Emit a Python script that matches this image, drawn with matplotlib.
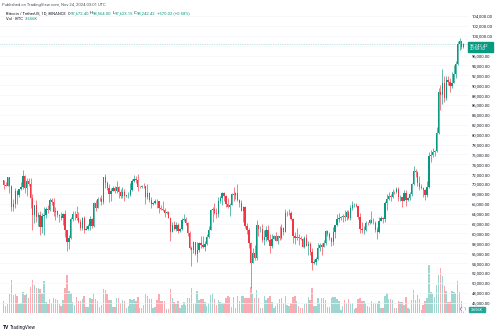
import numpy as np
import matplotlib
matplotlib.use('Agg')
import matplotlib.pyplot as plt
import matplotlib.dates as mdates

plt.rcParams['font.family'] = ['Roboto', 'DejaVu Sans']

# BTCUSDT daily candles, Binance, 2024-03-29 .. 2024-11-24 (prices in thousands of USDT)
first_day = np.datetime64('2024-03-29')

opens = [70.74, 69.89, 69.65,
	71.33, 69.70, 65.46, 65.98, 68.51, 67.84, 68.90, 69.36, 71.63, 69.14, 70.59, 70.06, 67.20, 63.77, 65.74, 63.42, 63.79, 61.28, 63.47, 63.82, 64.94, 64.80, 66.82, 66.41, 64.29, 64.50, 63.77, 63.46, 63.12, 63.87,
	60.67, 58.36, 59.06, 62.88, 63.89, 64.01, 63.17, 62.31, 61.19, 63.07, 60.80, 60.83, 61.48, 62.94, 61.58, 66.21, 65.24, 67.02, 66.92, 66.27, 71.45, 70.15, 69.17, 67.97, 68.55, 69.29, 68.51, 69.44, 68.40, 67.65, 68.35,
	67.54, 67.77, 67.82, 68.80, 70.57, 71.08, 70.76, 69.34, 69.31, 69.65, 69.51, 67.32, 68.24, 66.75, 66.01, 66.19, 66.64, 66.49, 65.15, 64.96, 64.83, 64.10, 64.25, 63.18, 60.28, 61.81, 60.86, 61.71, 60.43, 60.99,
	62.77, 62.90, 62.03, 60.17, 57.03, 56.64, 58.23, 55.86, 56.71, 58.05, 57.73, 57.34, 57.89, 59.20, 60.80, 64.72, 65.04, 64.09, 63.99, 66.66, 67.14, 68.17, 67.53, 65.94, 65.37, 65.78, 67.91, 67.81, 68.26, 66.82, 66.20,
	64.62, 65.36, 61.42, 60.68, 58.12, 53.99, 56.03, 55.03, 61.71, 60.88, 60.95, 58.72, 59.35, 60.61, 58.74, 57.56, 58.89, 59.48, 58.48, 59.49, 59.01, 61.18, 60.38, 64.09, 64.18, 64.22, 62.83, 59.42, 59.03, 59.36, 59.12,
	58.97, 57.30, 59.13, 57.49, 57.97, 56.16, 53.96, 54.16, 54.87, 57.04, 57.64, 57.34, 58.13, 60.50, 59.99, 59.13, 58.21, 60.31, 61.76, 62.95, 63.20, 63.35, 63.58, 63.34, 64.26, 63.15, 65.17, 65.77, 65.86, 65.60,
	63.33, 60.81, 60.65, 60.75, 62.09, 62.06, 62.82, 62.22, 62.16, 60.64, 60.33, 62.54, 63.21, 62.87, 66.08, 67.07, 67.62, 67.42, 68.43, 68.38, 69.03, 67.38, 67.43, 66.67, 68.20, 66.70, 67.09, 68.02, 69.96, 72.74, 72.34,
	70.22, 69.48, 69.29, 68.74, 67.81, 69.36, 75.64, 75.90, 76.54, 76.69, 80.37, 88.65, 87.95, 90.38, 87.33, 91.03, 90.59, 89.85, 90.46, 92.31, 94.29, 98.32, 98.89, 97.6724]

highs = [70.91, 70.36, 71.37,
	71.34, 69.71, 66.91, 69.29, 68.72, 69.00, 70.33, 72.80, 71.76, 71.17, 71.26, 71.23, 67.93, 65.84, 66.87, 64.37, 64.47, 64.13, 65.45, 65.42, 65.70, 67.23, 67.21, 67.08, 65.28, 64.79, 63.92, 64.35, 64.23, 64.73,
	60.78, 59.60, 63.33, 64.49, 64.65, 65.49, 64.42, 62.99, 63.40, 63.47, 61.49, 61.82, 63.45, 63.10, 66.44, 66.78, 67.45, 67.39, 67.70, 71.52, 71.98, 70.67, 70.10, 69.22, 69.59, 69.56, 70.69, 69.56, 68.91, 69.50, 69.03,
	67.86, 68.45, 70.29, 71.06, 71.76, 71.63, 71.99, 69.59, 69.85, 70.15, 69.56, 69.99, 68.45, 67.29, 66.40, 66.94, 67.00, 66.49, 65.73, 66.48, 65.07, 64.52, 64.49, 63.37, 62.29, 62.48, 62.39, 62.20, 61.20, 63.06,
	63.86, 63.29, 62.28, 60.50, 57.55, 58.47, 58.31, 58.24, 58.30, 59.47, 59.45, 58.53, 59.85, 61.42, 64.90, 65.39, 66.13, 65.11, 67.47, 67.60, 68.37, 68.48, 67.82, 67.10, 66.18, 68.24, 69.40, 68.32, 70.08, 66.99, 66.83,
	65.59, 65.60, 62.15, 61.12, 58.31, 57.04, 57.72, 62.75, 61.80, 61.47, 61.86, 60.72, 61.58, 61.80, 59.85, 59.82, 59.69, 60.26, 59.62, 61.43, 61.83, 61.41, 64.96, 64.52, 65.00, 64.48, 63.21, 60.23, 61.19, 59.90, 59.46,
	59.06, 59.40, 59.81, 58.52, 58.32, 56.99, 54.85, 55.30, 58.09, 58.04, 57.99, 58.59, 60.67, 60.61, 60.38, 59.21, 61.38, 61.79, 63.85, 64.13, 63.56, 64.00, 64.75, 64.69, 64.82, 65.84, 66.50, 66.26, 66.08, 65.62,
	64.13, 62.38, 61.47, 62.48, 62.37, 62.97, 64.48, 63.20, 62.54, 61.32, 63.42, 63.48, 63.29, 66.49, 67.95, 68.42, 67.94, 68.97, 68.69, 69.40, 69.49, 67.84, 67.47, 68.85, 68.77, 67.45, 68.38, 70.27, 73.62, 72.96, 72.70,
	71.63, 70.00, 69.39, 69.06, 70.58, 76.40, 76.85, 77.20, 76.95, 81.50, 89.53, 89.94, 93.27, 91.77, 91.85, 91.78, 91.45, 92.59, 94.00, 94.89, 98.97, 99.59, 98.95, 98.564]

lows = [69.08, 69.57, 69.62,
	68.11, 64.49, 64.49, 65.06, 66.00, 67.45, 68.82, 69.04, 68.21, 67.52, 69.57, 65.09, 60.66, 62.13, 62.30, 61.60, 59.77, 60.17, 59.60, 63.17, 64.24, 64.50, 65.86, 63.59, 62.79, 63.32, 62.42, 62.81, 61.77, 59.19,
	56.55, 56.94, 58.81, 62.58, 62.82, 62.70, 62.21, 60.63, 60.75, 60.19, 60.63, 60.61, 60.75, 61.14, 61.33, 64.60, 65.11, 66.60, 65.86, 66.06, 69.16, 68.85, 66.30, 66.63, 68.52, 68.13, 68.25, 67.21, 67.08, 67.12, 66.67,
	67.39, 67.26, 67.61, 68.56, 70.38, 70.12, 68.51, 69.17, 69.13, 69.24, 66.05, 66.90, 66.30, 65.08, 65.85, 66.00, 65.11, 64.06, 64.67, 64.50, 63.38, 63.94, 63.18, 58.40, 60.24, 60.71, 60.57, 60.04, 60.38, 60.62,
	62.50, 61.76, 59.42, 56.77, 53.49, 56.02, 55.72, 54.26, 56.29, 57.16, 57.04, 56.55, 57.76, 59.08, 60.63, 62.37, 63.86, 63.21, 63.30, 66.23, 65.76, 66.57, 65.38, 65.11, 63.46, 65.75, 66.64, 67.07, 66.48, 65.30, 64.53,
	62.25, 61.13, 59.85, 57.12, 49.00, 53.96, 54.56, 54.73, 59.57, 60.26, 58.29, 57.64, 58.43, 58.43, 56.08, 57.10, 58.79, 58.42, 57.86, 58.59, 58.79, 59.72, 60.34, 63.59, 63.78, 62.80, 58.03, 57.86, 58.72, 57.73, 58.74,
	57.20, 57.13, 57.41, 55.61, 55.67, 52.55, 53.75, 53.65, 54.59, 56.38, 55.55, 57.32, 57.63, 59.42, 58.70, 57.49, 57.61, 59.17, 61.56, 62.35, 62.70, 62.38, 62.61, 62.68, 62.94, 62.67, 64.81, 65.42, 65.42, 62.86,
	60.16, 60.00, 59.83, 60.46, 61.68, 61.82, 62.13, 61.83, 60.31, 58.95, 60.08, 62.47, 62.05, 62.42, 64.80, 66.75, 66.67, 67.18, 68.02, 68.10, 66.56, 66.57, 65.26, 66.56, 65.52, 66.57, 66.77, 67.54, 69.73, 71.44, 69.69,
	68.78, 69.02, 67.48, 66.82, 67.46, 69.30, 74.42, 75.56, 75.74, 76.49, 80.22, 85.07, 86.13, 86.67, 87.09, 90.06, 88.72, 89.38, 90.37, 91.50, 94.10, 97.18, 97.42, 97.62315]

closes = [69.89, 69.65, 71.33,
	69.70, 65.46, 65.98, 68.51, 67.84, 68.90, 69.36, 71.63, 69.14, 70.59, 70.06, 67.20, 63.77, 65.74, 63.42, 63.79, 61.28, 63.47, 63.82, 64.94, 64.80, 66.82, 66.41, 64.29, 64.50, 63.77, 63.46, 63.12, 63.87, 60.67,
	58.36, 59.06, 62.88, 63.89, 64.01, 63.17, 62.31, 61.19, 63.07, 60.80, 60.83, 61.48, 62.94, 61.58, 66.21, 65.24, 67.02, 66.92, 66.27, 71.45, 70.15, 69.17, 67.97, 68.55, 69.29, 68.51, 69.44, 68.40, 67.65, 68.35, 67.54,
	67.77, 67.82, 68.80, 70.57, 71.08, 70.76, 69.34, 69.31, 69.65, 69.51, 67.32, 68.24, 66.75, 66.01, 66.19, 66.64, 66.49, 65.15, 64.96, 64.83, 64.10, 64.25, 63.18, 60.28, 61.81, 60.86, 61.71, 60.43, 60.99, 62.77,
	62.90, 62.03, 60.17, 57.03, 56.64, 58.23, 55.86, 56.71, 58.05, 57.73, 57.34, 57.89, 59.20, 60.80, 64.72, 65.04, 64.09, 63.99, 66.66, 67.14, 68.17, 67.53, 65.94, 65.37, 65.78, 67.91, 67.81, 68.26, 66.82, 66.20, 64.62,
	65.36, 61.42, 60.68, 58.12, 53.99, 56.03, 55.03, 61.71, 60.88, 60.95, 58.72, 59.35, 60.61, 58.74, 57.56, 58.89, 59.48, 58.48, 59.49, 59.01, 61.18, 60.38, 64.09, 64.18, 64.22, 62.83, 59.42, 59.03, 59.36, 59.12, 58.97,
	57.30, 59.13, 57.49, 57.97, 56.16, 53.96, 54.16, 54.87, 57.04, 57.64, 57.34, 58.13, 60.50, 59.99, 59.13, 58.21, 60.31, 61.76, 62.95, 63.20, 63.35, 63.58, 63.34, 64.26, 63.15, 65.17, 65.77, 65.86, 65.60, 63.33,
	60.81, 60.65, 60.75, 62.09, 62.06, 62.82, 62.22, 62.16, 60.64, 60.33, 62.54, 63.21, 62.87, 66.08, 67.07, 67.62, 67.42, 68.43, 68.38, 69.03, 67.38, 67.43, 66.67, 68.20, 66.70, 67.09, 68.02, 69.96, 72.74, 72.34, 70.22,
	69.48, 69.29, 68.74, 67.81, 69.36, 75.64, 75.90, 76.54, 76.69, 80.37, 88.65, 87.95, 90.38, 87.33, 91.03, 90.59, 89.85, 90.46, 92.31, 94.29, 98.32, 98.89, 97.67, 98.24242]

# volume in thousands of BTC
volumes = [24, 14, 18,
	38, 66, 36, 38, 34, 18, 20, 42, 36, 38, 30, 52, 66, 56, 50, 50, 48, 40, 64, 22, 18, 28, 20, 30, 28, 26, 18, 14, 26, 50,
	76, 44, 40, 22, 16, 32, 24, 24, 28, 34, 12, 12, 30, 28, 40, 28, 24, 12, 16, 48, 46, 38, 26, 26, 12, 12, 30, 30, 20, 26, 24,
	10, 14, 28, 26, 28, 24, 32, 10, 10, 16, 38, 34, 28, 28, 10, 12, 26, 38, 24, 24, 24, 8, 8, 48, 30, 22, 18, 24, 10, 16,
	22, 16, 30, 30, 50, 18, 20, 44, 26, 28, 28, 22, 14, 20, 36, 40, 28, 16, 26, 22, 20, 20, 30, 34, 32, 12, 32, 10, 34, 24, 34,
	34, 30, 30, 30, 52, 40, 30, 46, 30, 10, 10, 34, 26, 30, 34, 22, 10, 14, 20, 28, 30, 20, 34, 16, 14, 20, 32, 34, 24, 14, 10,
	10, 18, 20, 32, 26, 50, 14, 14, 30, 20, 30, 30, 26, 12, 12, 30, 32, 32, 28, 24, 6, 14, 26, 20, 28, 18, 20, 8, 10, 28,
	30, 24, 24, 20, 14, 12, 24, 20, 20, 20, 24, 10, 10, 34, 40, 28, 28, 26, 10, 10, 24, 22, 22, 16, 32, 10, 8, 26, 46, 26, 36,
	28, 6, 16, 24, 30, 96, 42, 38, 32, 56, 76, 90, 74, 54, 44, 22, 22, 44, 42, 40, 64, 42, 24, 3.656]

date_ticks = ['2024-04-01', '2024-04-15', '2024-05-01', '2024-05-15', '2024-06-01', '2024-06-17', '2024-07-01', '2024-07-15',
	'2024-08-01', '2024-08-15', '2024-09-01', '2024-09-16', '2024-10-01', '2024-10-15', '2024-11-01', '2024-11-15']
date_labels = ['Apr', '15', 'May', '15', 'Jun', '17', 'Jul', '15', 'Aug', '15', 'Sep', '16', 'Oct', '15', 'Nov', '15']
price_ticks = list(range(46000, 104001, 2000))
hidden_tick = 98000  # sits under the last-price label

UP = '#089981'
DOWN = '#f23645'
UP_VOL = '#9fd6cf'
DOWN_VOL = '#f9abb1'
TEXT = '#131722'
GRID = '#f5f6f9'

W, H = 500., 333.

def px(x, y):
	'''pixel position (from top left) to figure fraction'''
	return x / W, 1. - y / H

def put_run(fig, x, y, parts, size, renderer):
	'''write (text, color) pieces one after the other'''
	fx, fy = px(x, y)
	for s, c in parts:
		t = fig.text(fx, fy, s, color=c, fontsize=size, va='center', ha='left')
		fx += t.get_window_extent(renderer).width / W

def main():
	o = np.array(opens) * 1000
	h = np.array(highs) * 1000
	l = np.array(lows) * 1000
	c = np.array(closes) * 1000
	v = np.array(volumes)

	days = first_day + np.arange(len(closes))
	x = mdates.date2num(days.astype('datetime64[D]').astype(object))
	up = c >= o

	fig = plt.figure(figsize=(5, 3.33), dpi=100)
	rect = [0, 20 / H, 468 / W, 313 / H]
	ax_vol = fig.add_axes(rect)
	ax = fig.add_axes(rect, sharex=ax_vol)
	ax.patch.set_visible(False)

	x_apr1 = mdates.date2num(np.datetime64('2024-04-01').astype(object))
	ax.set_xlim(x_apr1 - 4.96, x_apr1 + 239.4)
	ax.set_ylim(43914, 107237)
	ax_vol.set_ylim(0, 626)

	ax.set_yticks(price_ticks)
	ax.set_yticklabels(['' if p == hidden_tick else '{:,.2f}'.format(p) for p in price_ticks])
	ax.yaxis.tick_right()
	tick_x = [mdates.date2num(np.datetime64(d).astype(object)) for d in date_ticks]
	ax.set_xticks(tick_x)
	ax.set_xticklabels(date_labels)
	for lbl, txt in zip(ax.get_xticklabels(), date_labels):
		if not txt.isdigit():
			lbl.set_fontweight('bold')
	ax.tick_params(axis='y', length=0, pad=2.6, labelsize=3, labelcolor=TEXT)
	ax.tick_params(axis='x', length=0, pad=2.2, labelsize=3, labelcolor=TEXT)
	ax.grid(True, color=GRID, lw=0.5, zorder=0)
	ax_vol.set_xticks([]); ax_vol.set_yticks([])
	ax_vol.tick_params(axis='x', labelbottom=False)
	for a in (ax, ax_vol):
		for s in a.spines.values():
			s.set_visible(False)

	# volume
	ax_vol.bar(x[up], v[up], width=0.75, color=UP_VOL, lw=0)
	ax_vol.bar(x[~up], v[~up], width=0.75, color=DOWN_VOL, lw=0)

	# candles
	cols = np.where(up, UP, DOWN)
	ax.vlines(x, l, h, colors=cols, lw=0.45, zorder=3)
	body = np.maximum(np.abs(c - o), 60)
	ax.bar(x, body, bottom=np.minimum(o, c), width=0.68, color=cols, lw=0, zorder=4)

	# last price line
	ax.axhline(c[-1], color=UP, lw=0.5, ls=(0, (1, 1.5)), alpha=0.5, zorder=2)

	# price scale labels for last price and volume
	fig.patches.append(plt.Rectangle(px(468, 52), 25 / W, 10 / H, transform=fig.transFigure, color=UP, zorder=5))
	fig.text(*px(470, 45.2), '{:,.2f}'.format(c[-1]), color='white', fontsize=3, va='center', zorder=6)
	fig.text(*px(470, 49.4), '20:58:52', color='white', fontsize=3, va='center', zorder=6)
	fig.patches.append(plt.Rectangle(px(469, 312.3), 16 / W, 5.2 / H, transform=fig.transFigure, color='#26a69a', zorder=5))
	fig.text(*px(470.5, 309.8), '3.656K', color='white', fontsize=2.8, va='center', zorder=6)
	fig.text(*px(463, 309), '\u25cf', color='#ffffff', fontsize=4, ha='center', va='center')
	circ = plt.Circle(px(463, 309), 2.6 / W, transform=fig.transFigure, fill=False, ec='#ab47bc', lw=0.5)
	fig.patches.append(circ)

	# header
	renderer = fig.canvas.get_renderer()
	fig.text(*px(2.5, 5), 'Published on TradingView.com, Nov 24, 2024 03:01 UTC', color='#50535e', fontsize=3, va='center')
	put_run(fig, 6, 13.5, [('Bitcoin / TetherUS, 1D, BINANCE  O', TEXT), ('97,672.40', UP), (' H', TEXT), ('98,564.00', UP),
		(' L', TEXT), ('97,623.15', UP), (' C', TEXT), ('98,242.42', UP), (' +570.02 (+0.58%)', UP)], 3, renderer)
	put_run(fig, 6, 19.5, [('Vol \u00b7 BTC  ', TEXT), ('3.656K', UP)], 3, renderer)

	# footer logo
	fig.text(*px(3, 327.5), 'TV', color=TEXT, fontsize=3.6, fontweight='bold', va='center')
	fig.text(*px(10, 327.5), 'TradingView', color=TEXT, fontsize=3.3, va='center')

	fig.savefig('out.png', dpi=100)

if __name__ == '__main__':
	main()
